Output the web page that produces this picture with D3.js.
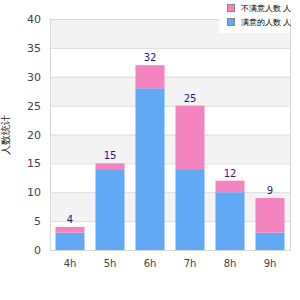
<!DOCTYPE html>
<html>
<head>
<meta charset="utf-8">
<script src="https://d3js.org/d3.v7.min.js"></script>
<style>
  body { margin: 0; background: #fff; }
  text { font-family: "DejaVu Sans", Verdana, sans-serif; }
</style>
</head>
<body>
<div id="chart"></div>
<script>
// data
var hours = ["4h", "5h", "6h", "7h", "8h", "9h"];
var blueVals = [3, 14, 28, 14, 10, 3];
var pinkVals = [1, 1, 4, 11, 2, 6];
var seriesNames = ["不满意人数 人", "满意的人数 人"];
var yTicks = [0, 5, 10, 15, 20, 25, 30, 35, 40];
var yTitle = "人数统计";

var width = 300, height = 300
var margin = {left: 50, right: 10, top: 19, bottom: 50}
var w = width - margin.left - margin.right
var h = height - margin.top - margin.bottom

var svg = d3.select("#chart").append("svg")
  .attr("width", width)
  .attr("height", height)

var g = svg.append("g")
  .attr("transform", "translate(" + margin.left + "," + margin.top + ")")

var xs = d3.scaleBand().domain(hours).range([0, w]).paddingInner(0.275).paddingOuter(0.1375)
var ys = d3.scaleLinear().domain([0, 40]).range([h, 0])

// stripes
for (var i = 0; i < yTicks.length - 1; i++) {
  if (i % 2 == 1) {
    g.append("rect")
      .attr("x", 0).attr("width", w)
      .attr("y", ys(yTicks[i + 1]))
      .attr("height", ys(yTicks[i]) - ys(yTicks[i + 1]))
      .attr("fill", "#f3f3f3")
  }
}

// grid lines
g.selectAll(".grid").data(yTicks).enter().append("line")
  .attr("x1", 0).attr("x2", w)
  .attr("y1", function(d) { return ys(d) + 0.5 })
  .attr("y2", function(d) { return ys(d) + 0.5 })
  .attr("stroke", "#dddddd")

// plot border
g.append("rect")
  .attr("x", 0.5).attr("y", 0.5).attr("width", w).attr("height", h)
  .attr("fill", "none").attr("stroke", "#d8d8d8")

var rows = hours.map(function(d, i) { return {hour: d, blue: blueVals[i], pink: pinkVals[i]} })

// blue bottom
g.selectAll(".blue").data(rows).enter().append("rect")
  .attr("x", function(d) { return xs(d.hour) })
  .attr("width", xs.bandwidth())
  .attr("y", function(d) { return ys(d.blue) })
  .attr("height", function(d) { return ys(0) - ys(d.blue) })
  .attr("fill", "#61a9f4")

// pink top
g.selectAll(".pink").data(rows).enter().append("rect")
  .attr("x", function(d) { return xs(d.hour) })
  .attr("width", xs.bandwidth())
  .attr("y", function(d) { return ys(d.blue + d.pink) })
  .attr("height", function(d) { return ys(d.blue) - ys(d.blue + d.pink) })
  .attr("fill", "#f484bf")

// totals
g.selectAll(".tot").data(rows).enter().append("text")
  .attr("x", function(d) { return xs(d.hour) + xs.bandwidth() / 2 })
  .attr("y", function(d) { return ys(d.blue + d.pink) - 4 })
  .attr("text-anchor", "middle")
  .style("font-size", "10px")
  .attr("fill", "#1a1a8c")
  .text(function(d) { return d.blue + d.pink })

// y axis labels
g.selectAll(".ylab").data(yTicks).enter().append("text")
  .attr("x", -9)
  .attr("y", function(d) { return ys(d) + 4 })
  .attr("text-anchor", "end")
  .style("font-size", "11px")
  .attr("fill", "#444")
  .text(function(d) { return d })

// x axis labels
g.selectAll(".xlab").data(hours).enter().append("text")
  .attr("x", function(d) { return xs(d) + xs.bandwidth() / 2 })
  .attr("y", h + 17)
  .attr("text-anchor", "middle")
  .style("font-size", "10px")
  .attr("fill", "#444")
  .text(function(d) { return d })

// y title
svg.append("text")
  .attr("transform", "translate(9," + (margin.top + h / 2) + ") rotate(-90)")
  .attr("text-anchor", "middle")
  .style("font-size", "10px")
  .attr("fill", "#222")
  .text(yTitle)

// legend
var leg = svg.append("g").attr("transform", "translate(219,0)")
leg.append("rect").attr("x", 0).attr("y", 0).attr("width", 71).attr("height", 33).attr("fill", "#fff")
var legColors = ["#f484bf", "#61a9f4"]
seriesNames.forEach(function(name, i) {
  leg.append("rect")
    .attr("x", 8.5).attr("y", 4.5 + i * 14)
    .attr("width", 7).attr("height", 7)
    .attr("fill", legColors[i]).attr("stroke", "#888")
  leg.append("text")
    .attr("x", 22).attr("y", 11 + i * 14)
    .style("font-size", "7.5px")
    .attr("fill", "#000")
    .text(name)
})
</script>
</body>
</html>
